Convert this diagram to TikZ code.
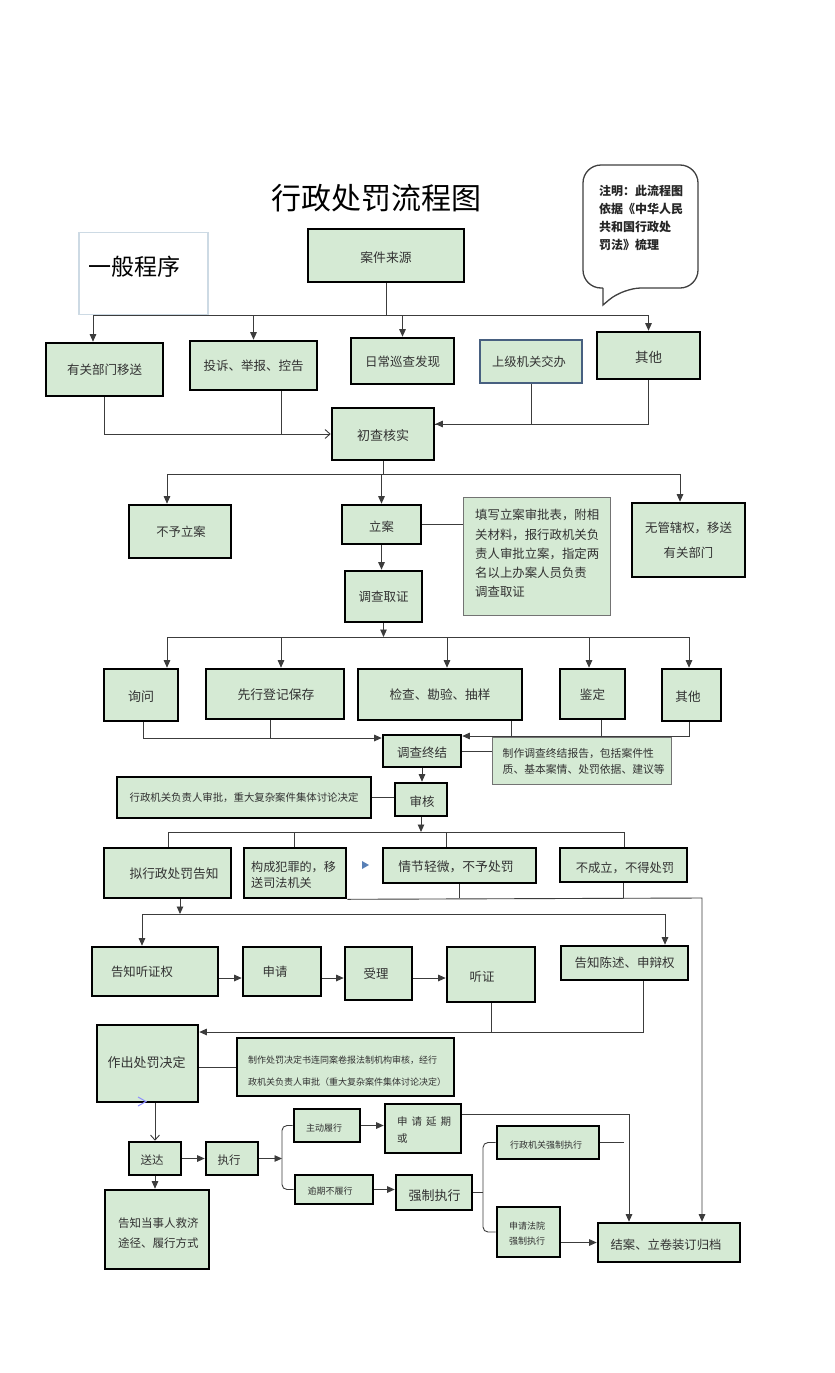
\documentclass[tikz,border=0pt]{standalone}
\usepackage{fontspec}
\setmainfont{Noto Sans CJK SC}
\usetikzlibrary{arrows.meta,calc}
\definecolor{boxg}{RGB}{213,234,212}
\definecolor{txtc}{RGB}{50,50,50}
\definecolor{lnc}{RGB}{60,60,60}
\definecolor{blueb}{RGB}{72,96,128}
\definecolor{trib}{RGB}{88,128,182}
\definecolor{genb}{RGB}{205,218,228}
\newcommand{\fs}[2]{\fontsize{#1pt}{#2pt}\selectfont}
\newcommand{\bx}[8]{%
  \node[#1, minimum width={#5-#3}, minimum height={#6-#4}] (#2) at ({(#3+#5)/2},{(#4+#6)/2}) {};
  \node[txt,#7] (#2-t) at (#2.center) {#8};}
\tikzset{
  tb/.style={draw=black, line width=2.6pt, fill=boxg, inner sep=0pt},
  nb/.style={draw=black!55, line width=0.9pt, fill=boxg, inner sep=0pt},
  bb/.style={draw=blueb, line width=1.4pt, fill=boxg, inner sep=0pt},
  txt/.style={text=txtc, inner sep=0pt, align=center, font=\fs{12.8}{16}},
  ln/.style={draw=lnc, line width=0.9pt},
  arr/.style={ln, -{Triangle[length=7.5pt,width=6.5pt]}},
  oarr/.style={ln, -{Straight Barb[length=5pt,width=9pt,line width=0.9pt]}}
}
\begin{document}
\begin{tikzpicture}[x=1pt,y=-1pt]
\fill[white] (0,0) rectangle (835,1373);
\useasboundingbox (0,0) rectangle (835,1373);

% title
\node[text=black, inner sep=0pt, font=\fs{30}{34}] (title) at (376,198) {行政处罚流程图};

% general procedure box
\node[draw=genb, line width=1.2pt, fill=white, minimum width=129, minimum height=82, inner sep=0pt] (gen) at (143.5,273.5) {};
\node[text=black, inner sep=0pt, font=\fs{23}{26}] (gen-t) at (134.5,267) {一般程序};

% callout
\draw[draw=black!75, line width=1.3pt, rounded corners=18pt] (603,288) -- (583,288) -- (583,165) -- (698,165) -- (698,288) -- (623,288) [sharp corners] -- (603,305) -- (603,288);
\node[text=black!85, inner sep=0pt, align=left, anchor=west, font=\fs{12}{18}\bfseries] (note0) at (599,218) {注明：此流程图\\依据《中华人民\\共和国行政处\\罚法》梳理};

% boxes
\bx{tb}{src}{308}{229}{464}{282}{shift={(0,2.5)}}{案件来源}
\bx{tb}{r1a}{46}{343}{163}{396}{shift={(0,0.5)},font=\fs{12.5}{15}}{有关部门移送}
\bx{tb}{r1b}{190}{341}{317}{390}{shift={(0,0.5)},font=\fs{12.5}{15}}{投诉、举报、控告}
\bx{tb}{r1c}{351}{338}{454}{384}{shift={(0,1)},font=\fs{12.5}{15}}{日常巡查发现}
\bx{bb}{r1d}{480}{340}{582}{383}{shift={(-2,0)},font=\fs{12.3}{15}}{上级机关交办}
\bx{tb}{r1e}{597}{332}{700}{379}{shift={(0,1.5)},font=\fs{13.5}{16}}{其他}
\bx{tb}{verify}{332}{408}{434}{460}{shift={(0,2)},font=\fs{13}{16}}{初查核实}

\bx{tb}{noreg}{129}{505}{231}{558}{shift={(1,0.5)},font=\fs{12.3}{15}}{不予立案}
\bx{tb}{reg}{342}{505}{421}{544}{shift={(0,2.5)},font=\fs{12.3}{15}}{立案}
\bx{tb}{inv}{345}{571}{422}{622}{shift={(0,0.5)},font=\fs{12.5}{15}}{调查取证}
\bx{nb}{note1}{463}{497}{610}{615}{anchor=west,align=left,shift={(-61.5,-2.5)},font=\fs{12.4}{19.25}}{填写立案审批表，附相\\关材料，报行政机关负\\责人审批立案，指定两\\名以上办案人员负责\\调查取证}
\bx{tb}{nojur}{632}{503}{745}{577}{shift={(0,0.5)},font=\fs{12.4}{25}}{无管辖权，移送\\有关部门}

\bx{tb}{q1}{104}{669}{178}{721}{shift={(0,2)},font=\fs{13}{16}}{询问}
\bx{tb}{q2}{206}{669}{344}{719}{shift={(1,1)},font=\fs{12.8}{16}}{先行登记保存}
\bx{tb}{q3}{358}{669}{522}{720}{shift={(0,0.5)},font=\fs{12.6}{16}}{检查、勘验、抽样}
\bx{tb}{q4}{560}{669}{625}{719}{shift={(0,1)},font=\fs{12.6}{16}}{鉴定}
\bx{tb}{q5}{662}{669}{721}{721}{shift={(-3.5,2)},font=\fs{12.6}{16}}{其他}
\bx{tb}{end}{383}{735}{461}{767}{shift={(0,2)},font=\fs{12.5}{16}}{调查终结}
\bx{nb}{note2}{492}{737}{671}{784}{anchor=west,align=left,shift={(-79,0.5)},font=\fs{10.8}{16}}{制作调查终结报告，包括案件性\\质、基本案情、处罚依据、建议等}
\bx{tb}{rev}{395}{783}{447}{816}{shift={(1,2.5)},font=\fs{12.5}{16}}{审核}
\bx{tb}{note3}{117}{777}{371}{818}{shift={(0,0.5)},font=\fs{10.4}{13}}{行政机关负责人审批，重大复杂案件集体讨论决定}

\bx{tb}{d1}{104}{848}{231}{898}{shift={(6.5,1)},font=\fs{12.7}{16}}{拟行政处罚告知}
\bx{tb}{d2}{244}{848}{346}{898}{anchor=west,align=left,shift={(-44,2)},font=\fs{12.1}{16}}{构成犯罪的，移\\送司法机关}
\bx{tb}{d3}{383}{848}{536}{883}{shift={(-3.5,1.5)},font=\fs{12.8}{16}}{情节轻微，不予处罚}
\bx{tb}{d4}{560}{848}{687}{882}{shift={(1.5,3)},font=\fs{12.3}{16}}{不成立，不得处罚}

\bx{tb}{h1}{92}{947}{218}{996}{shift={(-13,0.5)},font=\fs{12.4}{16}}{告知听证权}
\bx{tb}{h2}{243}{947}{321}{996}{shift={(-7,0.5)},font=\fs{12.4}{16}}{申请}
\bx{tb}{h3}{345}{947}{412}{1000}{shift={(-2.5,0.5)},font=\fs{12.4}{16}}{受理}
\bx{tb}{h4}{447}{947}{535}{1002}{shift={(-9,2.5)},font=\fs{12.4}{16}}{听证}
\bx{tb}{h5}{561}{946}{688}{980}{font=\fs{12.5}{16}}{告知陈述、申辩权}

\bx{tb}{dec}{97}{1025}{198}{1102}{shift={(-1,-0.5)},font=\fs{13}{16}}{作出处罚决定}
\bx{tb}{note4}{237}{1038}{454}{1096}{anchor=west,align=left,shift={(-97.5,4)},font=\fs{9}{22}}{制作处罚决定书连同案卷报法制机构审核，经行\\政机关负责人审批（重大复杂案件集体讨论决定）}

\bx{tb}{sd}{129}{1142}{181}{1175}{shift={(-3,1.5)},font=\fs{11.5}{14}}{送达}
\bx{tb}{ex}{206}{1142}{258}{1175}{shift={(-3,1.5)},font=\fs{11.5}{14}}{执行}
\bx{tb}{tell}{105}{1190}{209}{1269}{anchor=west,align=left,shift={(-39,3.5)},font=\fs{11.5}{20}}{告知当事人救济\\途径、履行方式}
\bx{tb}{vol}{294}{1109}{360}{1142}{shift={(-3,3)},font=\fs{9}{12}}{主动履行}
\bx{tb}{ext}{385}{1104}{461}{1153}{anchor=west,align=left,shift={(-26,1.5)},font=\fs{10.5}{16.5}}{申\hspace{4pt}请\hspace{4pt}延\hspace{4pt}期\\或}
\bx{tb}{ovd}{295}{1175}{373}{1204}{shift={(-4,1.5)},font=\fs{9}{12}}{逾期不履行}
\bx{tb}{force}{396}{1175}{472}{1210}{shift={(0.5,3.5)},font=\fs{13}{16}}{强制执行}
\bx{tb}{admf}{497}{1126}{599}{1159}{shift={(-2,2.5)},font=\fs{9}{12}}{行政机关强制执行}
\bx{tb}{court}{497}{1207}{560}{1257}{shift={(-1.5,1.5)},font=\fs{9}{15}}{申请法院\\强制执行}
\bx{tb}{close}{598}{1223}{740}{1262}{shift={(-3,2.5)},font=\fs{12.3}{16}}{结案、立卷装订归档}

% small marks
\fill[trib] (362,861) -- (369,865) -- (362,869) -- cycle;
\draw[blue!45, line width=1pt] (138,1097) -- (146,1101.5) -- (138,1106);

% ---- connectors ----
% sources fan
\coordinate (b1) at (386,315);
\coordinate (b1L) at (93,315);
\draw[ln] (src.south) -- (b1);
\draw[ln] (b1L) -- (b1 -| r1e.north);
\draw[arr] (b1L) -- (b1L |- r1a.north);
\draw[arr] (b1 -| r1b.north) -- (r1b.north);
\draw[arr] (b1 -| r1c.north) -- (r1c.north);
\draw[arr] (b1 -| r1e.north) -- (r1e.north);
% into verify
\draw[oarr] (r1a.south) |- (verify.west);
\draw[ln] ([xshift=28]r1b.south) -- ([xshift=28]r1b.south |- verify.west);
\draw[arr] (r1d.south) |- ([yshift=10]verify.east);
\draw[ln] (r1e.south) |- ([yshift=10]verify.east);
% verify fan
\coordinate (b2) at (383,474);
\coordinate (b2L) at (167,474);
\coordinate (b2R) at (680,474);
\draw[ln] (verify.south) -- (b2);
\draw[ln] (b2L) -- (b2R);
\draw[arr] (b2L) -- (b2L |- noreg.north);
\draw[arr] (b2 -| reg.north) -- (reg.north);
\draw[arr] (b2R) -- (b2R |- nojur.north);
\draw[ln] (reg.east) -- (reg.east -| note1.west);
\draw[arr] (reg.south) -- (reg.south |- inv.north);
% investigation fan
\coordinate (t1) at (167,637);
\coordinate (t2) at (281,637);
\coordinate (t3) at (447,637);
\coordinate (t4) at (589,637);
\coordinate (t5) at (689,637);
\draw[arr] (inv.south) -- (inv.south |- t1);
\draw[ln] (t1) -- (t5);
\draw[arr] (t1) -- (t1 |- q1.north);
\draw[arr] (t2) -- (t2 |- q2.north);
\draw[arr] (t3) -- (t3 |- q3.north);
\draw[arr] (t4) -- (t4 |- q4.north);
\draw[arr] (t5) -- (t5 |- q5.north);
% into end
\coordinate (e1) at (143,738);
\coordinate (e2) at (270,738);
\draw[ln] (e1 |- q1.south) -- (e1);
\draw[ln] (e2 |- q2.south) -- (e2);
\draw[arr] (e1) -- (e1 -| end.west);
\coordinate (f3) at (511,736);
\coordinate (f4) at (601,736);
\coordinate (f5) at (689,736);
\draw[ln] (f3 |- q3.south) -- (f3);
\draw[ln] (f4 |- q4.south) -- (f4);
\draw[arr] (f5 |- q5.south) -- (f5) -- (f5 -| end.east);
\draw[ln] (end.east) -- (end.east -| note2.west);
\draw[arr] (end.south) -- (end.south |- rev.north);
\draw[ln] (note3.east) -- (note3.east -| rev.west);
% decision fan
\coordinate (g1) at (168,832);
\coordinate (g2) at (294,832);
\coordinate (g3) at (446,832);
\coordinate (g4) at (624,832);
\draw[arr] (rev.south) -- (rev.south |- g1);
\draw[ln] (g1) -- (g4);
\draw[ln] (g1) -- (g1 |- d1.north);
\draw[ln] (g2) -- (g2 |- d2.north);
\draw[ln] (g3) -- (g3 |- d3.north);
\draw[ln] (g4) -- (g4 |- d4.north);
% to close on the right
\coordinate (k) at (702,898);
\draw[ln] (d3.south) -- (d3.south |- k);
\draw[ln] (d4.south) -- (d4.south |- k);
\draw[arr] (d2.south east) -- (k) -- (k |- close.north);
% hearing fan
\coordinate (m) at (180,914);
\coordinate (mL) at (142,914);
\coordinate (mR) at (665,914);
\draw[arr] (m |- d1.south) -- (m);
\draw[ln] (mL) -- (mR);
\draw[arr] (mL) -- (mL |- h1.north);
\draw[arr] (mR) -- (mR |- h5.north);
\coordinate (hy) at (0,978);
\draw[arr] (h1.east |- hy) -- (h2.west |- hy);
\draw[arr] (h2.east |- hy) -- (h3.west |- hy);
\draw[arr] (h3.east |- hy) -- (h4.west |- hy);
\coordinate (p) at (643,1032);
\draw[ln] (h4.south) -- (h4.south |- p);
\draw[arr] (p |- h5.south) -- (p) -- (p -| dec.east);
\draw[ln] (note4.west -| dec.east) -- (note4.west);
% delivery and execution
\draw[oarr] (sd.north |- dec.south) -- (sd.north);
\draw[arr] (sd.east) -- (ex.west);
\draw[arr] (sd.south) -- (sd.south |- tell.north);
\coordinate (br1) at (282,1158.5);
\draw[arr] (ex.east) -- (br1);
\draw[ln, rounded corners=5pt] (vol.west) -- (vol.west -| br1) -- (ovd.west -| br1) -- (ovd.west);
\draw[arr] (vol.east) -- (vol.east -| ext.west);
\draw[arr] (ovd.east) -- (ovd.east -| force.west);
\coordinate (br2) at (483,1192.5);
\draw[ln] (force.east) -- (br2);
\draw[ln, rounded corners=5pt] (admf.west) -- (admf.west -| br2) -- (court.west -| br2) -- (court.west);
\coordinate (admfend) at (624,1142.5);
\draw[ln] (admf.east) -- (admfend);
\draw[arr] (close.west -| court.east) -- (close.west);
\coordinate (q) at (629,1114);
\draw[arr] (q -| ext.east) -- (q) -- (q |- close.north);
\end{tikzpicture}
\end{document}
